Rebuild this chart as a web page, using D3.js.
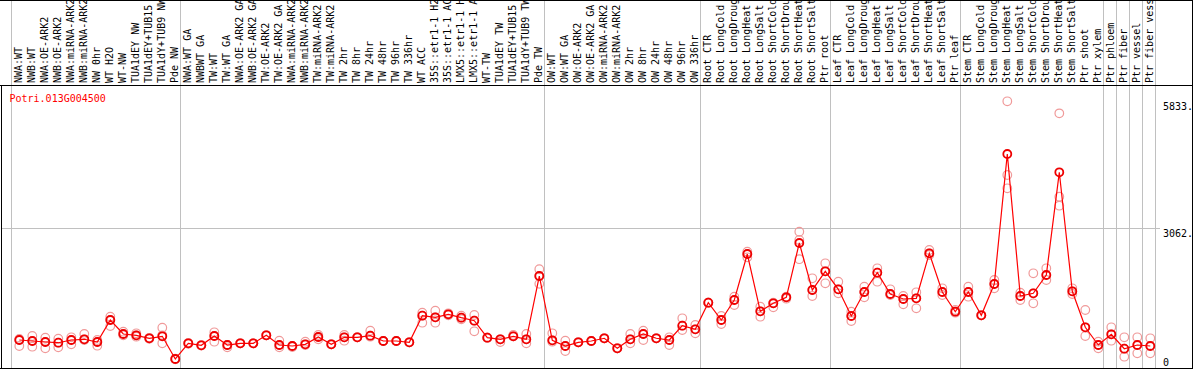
<!DOCTYPE html>
<html>
<head>
<meta charset="utf-8">
<script src="https://cdn.jsdelivr.net/npm/d3@7"></script>
<style>
  body { margin: 0; background: #fff; }
  svg { display: block; }
  text { font-family: "DejaVu Sans Mono", monospace; font-size: 10px; }
</style>
</head>
<body>
<svg id="chart" width="1194" height="370"></svg>
<script>
// sample labels, one per column
const samples = [
    "NWA:WT", "NWB:WT", "NWA:OE-ARK2", "NWB:OE-ARK2", "NWA:miRNA-ARK2", "NWB:miRNA-ARK2",
    "NW 0hr", "WT H2O", "WT-NW", "TUA1dEY NW", "TUA1dEY+TUB15 NW", "TUA1dY+TUB9 NW", "Pde NW",
    "NWA:WT GA", "NWBWT GA", "TW:WT", "TW:WT GA", "NWA:OE-ARK2 GA", "NWB:OE-ARK2 GA",
    "TW:OE-ARK2", "TW:OE-ARK2 GA", "NWA:miRNA-ARK2", "NWB:miRNA-ARK2", "TW:miRNA-ARK2",
    "TW:miRNA-ARK2", "TW 2hr", "TW 8hr", "TW 24hr", "TW 48hr", "TW 96hr", "TW 336hr", "WT ACC",
    "35S::etr1-1 H2O", "35S::etr1-1 ACC", "LMX5::etr1-1 H2O", "LMX5::etr1-1 ACC", "WT-TW",
    "TUA1dEY TW", "TUA1dEY+TUB15 TW", "TUA1dY+TUB9 TW", "Pde TW",
    "OW:WT", "OW:WT GA", "OW:OE-ARK2", "OW:OE-ARK2 GA", "OW:miRNA-ARK2", "OW:miRNA-ARK2",
    "OW 2hr", "OW 8hr", "OW 24hr", "OW 48hr", "OW 96hr", "OW 336hr",
    "Root CTR", "Root LongCold", "Root LongDrought", "Root LongHeat", "Root LongSalt",
    "Root ShortCold", "Root ShortDrought", "Root ShortHeat", "Root ShortSalt", "Ptr root",
    "Leaf CTR", "Leaf LongCold", "Leaf LongDrought", "Leaf LongHeat", "Leaf LongSalt",
    "Leaf ShortCold", "Leaf ShortDrought", "Leaf ShortHeat", "Leaf ShortSalt", "Ptr leaf",
    "Stem CTR", "Stem LongCold", "Stem LongDrought", "Stem LongHeat", "Stem LongSalt",
    "Stem ShortCold", "Stem ShortDrought", "Stem ShortHeat", "Stem ShortSalt", "Ptr shoot", "Ptr xylem",
    "Ptr phloem", "Ptr fiber", "Ptr vessel", "Ptr fiber vessel"
];

// number of columns in each experiment block
const groupSizes = [13, 28, 12, 10, 10, 11, 1, 1, 1, 1];

// mean expression per sample
const means = [
    612, 590, 569, 553, 612, 628, 569, 1050, 744, 715, 650, 693, 197,
    540, 496, 700, 503, 540, 540, 715, 503, 481, 518, 678, 518, 671, 671, 706, 590, 590, 562,
    1144, 1109, 1174, 1100, 1034, 663, 628, 693, 628, 2012,
    606, 481, 562, 590, 650, 431, 628, 744, 650, 612, 925, 846,
    1428, 1050, 1487, 2493, 1240, 1415, 1546, 2734, 1706, 2115,
    1721, 1137, 1662, 2084, 1618, 1509, 1524, 2508, 1662, 1231,
    1662, 1153, 1837, 4680, 1575, 1634, 2034, 4280, 1677, 890, 503,
    737, 422, 503, 481
];

// individual replicates per sample
const replicates = [
    [634, 481, 612], [700, 590, 466], [663, 569, 431], [641, 553, 453], [671, 612, 518],
    [744, 628, 612], [612, 569, 488], [1122, 1050, 919], [794, 744, 715], [759, 715, 685],
    [640, 650, 660], [881, 715, 540], [190, 197, 204],
    [530, 540, 550], [490, 496, 502], [781, 700, 575], [503, 453, 503], [540, 540, 540],
    [540, 540, 540], [715, 715, 715], [597, 503, 453], [481, 481, 459], [575, 518, 503],
    [722, 678, 628], [518, 518, 518], [722, 671, 597], [671, 671, 671], [816, 706, 685],
    [590, 590, 590], [590, 590, 590], [562, 562, 562], [1209, 1144, 991], [1253, 1109, 991],
    [1196, 1174, 1153], [1144, 1100, 1065], [1159, 1034, 803], [663, 663, 663], [628, 569, 628],
    [722, 693, 693], [744, 628, 540], [2160, 2012, 1840],
    [759, 606, 575], [597, 481, 372], [562, 562, 562], [590, 590, 590], [650, 650, 650],
    [431, 431, 431], [744, 628, 540], [816, 744, 612], [650, 650, 650], [671, 612, 503],
    [1087, 925, 831], [940, 846, 759],
    [1428, 1428, 1428], [1137, 1050, 962], [1559, 1487, 1378], [2543, 2493, 2421],
    [1341, 1240, 1122], [1428, 1415, 1328], [1559, 1546, 1516], [2980, 2800, 2380],
    [1962, 1706, 1575], [2290, 2115, 1852],
    [1887, 1721, 1634], [1231, 1137, 1028], [1778, 1662, 1546], [2180, 2084, 1887],
    [1721, 1618, 1597], [1575, 1509, 1393], [1656, 1524, 1306], [2581, 2508, 2471],
    [1743, 1662, 1597], [1268, 1231, 1209],
    [1778, 1662, 1559], [1153, 1153, 1153], [1925, 1837, 1743], [5833, 4221, 3930],
    [1647, 1575, 1487], [2071, 1634, 1415], [2180, 2034, 1925], [5570, 3746, 3550],
    [1743, 1677, 1618], [1268, 890, 700], [575, 503, 431],
    [890, 737, 597], [671, 422, 247], [671, 503, 321], [650, 481, 321]
];

const gene = "Potri.013G004500";
const yTicks = [0, 3062, 5833];

const svg = d3.select("#chart");
const width = +svg.attr("width");
const height = +svg.attr("height");

const headerBottom = 85;
const plotBottom = 368;

const x = d3.scaleBand()
    .domain(d3.range(samples.length))
    .range([12.8, 12.8 + samples.length * 13])
    .padding(0);
const xc = i => x(i) + x.bandwidth() / 2;

const y = d3.scaleLinear()
    .domain([0, 5833])
    .range([plotBottom, 101.3]);

// group separators (vertical grey lines, full height)
const sepX = [Math.round(xc(0) - 8.6)];
let acc = 0;
groupSizes.forEach(n => {
    acc += n;
    sepX.push(Math.round(xc(acc - 1) + 4.7));
});

svg.append("g")
    .selectAll("line")
    .data(sepX)
    .enter()
    .append("line")
    .attr("x1", d => d + 0.5)
    .attr("x2", d => d + 0.5)
    .attr("y1", 0)
    .attr("y2", plotBottom)
    .attr("stroke", "#c0c0c0")
    .attr("shape-rendering", "crispEdges");

// horizontal grid line at middle tick
svg.append("line")
    .attr("x1", 2)
    .attr("x2", 1160)
    .attr("y1", Math.round(y(3062)) + 0.5)
    .attr("y2", Math.round(y(3062)) + 0.5)
    .attr("stroke", "#c0c0c0")
    .attr("shape-rendering", "crispEdges");

// frame
const frame = svg.append("g")
    .attr("stroke", "#000")
    .attr("shape-rendering", "crispEdges");
frame.append("line").attr("x1", 0).attr("x2", width - 1.5).attr("y1", headerBottom + 0.5).attr("y2", headerBottom + 0.5);
frame.append("line").attr("x1", 0).attr("x2", width - 1.5).attr("y1", 0.5).attr("y2", 0.5);
frame.append("line").attr("x1", 0).attr("x2", width - 1.5).attr("y1", plotBottom + 0.5).attr("y2", plotBottom + 0.5);
frame.append("line").attr("x1", 1.5).attr("x2", 1.5).attr("y1", headerBottom).attr("y2", plotBottom + 1);
frame.append("line").attr("x1", width - 1.5).attr("x2", width - 1.5).attr("y1", 0).attr("y2", plotBottom + 1);

// rotated sample labels
svg.append("g")
    .selectAll("text")
    .data(samples)
    .enter()
    .append("text")
    .attr("transform", (d, i) => `translate(${xc(i) + 3},83) rotate(-90)`)
    .attr("fill", "#000")
    .text(d => d);

// gene name
svg.append("text")
    .attr("x", 9.5)
    .attr("y", 101.5)
    .attr("fill", "#ff0000")
    .text(gene);

// y labels on the right
svg.append("g")
    .selectAll("text")
    .data(yTicks)
    .enter()
    .append("text")
    .attr("x", 1163)
    .attr("y", d => d === 0 ? 366 : y(d) + 9)
    .attr("fill", "#000")
    .text(d => d === 0 ? "0" : d + ".");

// replicate circles
const repPoints = [];
replicates.forEach((r, i) => r.forEach(v => repPoints.push({ i, v })));

svg.append("g")
    .selectAll("circle")
    .data(repPoints)
    .enter()
    .append("circle")
    .attr("cx", d => xc(d.i))
    .attr("cy", d => y(d.v))
    .attr("r", 4.3)
    .attr("fill", "none")
    .attr("stroke", "#f09a9a")
    .attr("stroke-width", 1.2);

// mean line
const line = d3.line()
    .x((d, i) => xc(i))
    .y(d => y(d));

svg.append("path")
    .datum(means)
    .attr("d", line)
    .attr("fill", "none")
    .attr("stroke", "#ff0000")
    .attr("stroke-width", 1.2);

// mean circles
svg.append("g")
    .selectAll("circle")
    .data(means)
    .enter()
    .append("circle")
    .attr("cx", (d, i) => xc(i))
    .attr("cy", d => y(d))
    .attr("r", 4)
    .attr("fill", "none")
    .attr("stroke", "#ee0000")
    .attr("stroke-width", 1.8);
</script>
</body>
</html>
